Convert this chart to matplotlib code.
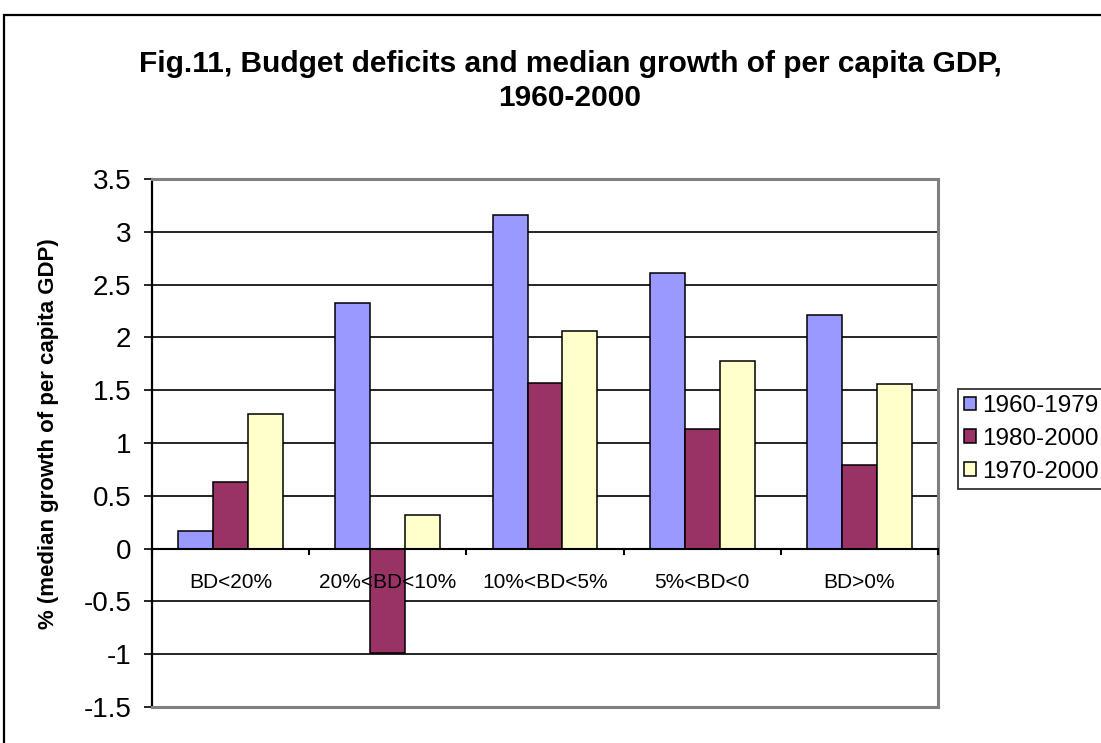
import matplotlib
matplotlib.use("Agg")
import matplotlib.pyplot as plt
from matplotlib.patches import Rectangle
import numpy as np

plt.rcParams['font.family'] = ['Liberation Sans', 'DejaVu Sans']

categories = ["BD<20%", "20%<BD<10%", "10%<BD<5%", "5%<BD<0", "BD>0%"]
series_names = ["1960-1979", "1980-2000", "1970-2000"]
s1960_1979 = [0.17, 2.33, 3.16, 2.61, 2.21]
s1980_2000 = [0.63, -0.99, 1.57, 1.13, 0.79]
s1970_2000 = [1.27, 0.32, 2.06, 1.78, 1.56]
yticks = [3.5, 3, 2.5, 2, 1.5, 1, 0.5, 0, -0.5, -1, -1.5]
ytick_labels = ["3.5", "3", "2.5", "2", "1.5", "1", "0.5", "0", "-0.5", "-1", "-1.5"]
colors = ["#9999FF", "#993366", "#FFFFCC"]

W, H = 1101, 743
fig = plt.figure(figsize=(W / 100, H / 100), dpi=100)
# outer chart frame (cropped at right and bottom)
fig.patches.append(Rectangle((4 / W, -0.05), 1.2, 1 - 15 / H + 0.05,
                             transform=fig.transFigure, fill=False,
                             edgecolor="black", linewidth=1.6, zorder=0))

L, R, T, B = 152, 938, 179, 707
ax = fig.add_axes([L / W, 1 - B / H, (R - L) / W, (B - T) / H])
x = np.arange(len(categories))
w = 0.222
for i, (vals, name) in enumerate(zip([s1960_1979, s1980_2000, s1970_2000], series_names)):
    ax.bar(x + (i - 1) * w, vals, w, color=colors[i], edgecolor="black",
           linewidth=1.1, label=name, zorder=3)

ax.set_xlim(-0.5, len(categories) - 0.5)
ax.set_ylim(-1.5, 3.5)
ax.set_yticks(yticks)
ax.set_yticklabels(ytick_labels, fontsize=20)
ax.yaxis.grid(True, color="black", linewidth=1.2, zorder=0)
ax.set_axisbelow(True)
ax.tick_params(axis='y', length=6, width=1.2, direction='out', pad=9)
ax.set_xticks([])

for sp in ["top", "right", "bottom"]:
    ax.spines[sp].set_color("#808080")
    ax.spines[sp].set_linewidth(2.2)
ax.spines["left"].set_linewidth(1.6)

# zero axis line with category separator ticks
ax.axhline(0, color="black", linewidth=1.5, zorder=4)
for b in np.arange(-0.5, len(categories), 1.0):
    ax.plot([b, b], [0, -0.05], color="black", linewidth=1.5, zorder=4, clip_on=False)
for xi, c in zip(x, categories):
    ax.text(xi, -0.32, c, ha="center", va="center", fontsize=15, zorder=5)

fig.text(49 / W, 1 - 434 / H, "% (median growth of per capita GDP)", rotation=90,
         ha="center", va="center", fontsize=16, fontweight="bold")

fig.text(570 / W, 1 - 81 / H, "Fig.11, Budget deficits and median growth of per capita GDP,\n1960-2000",
         ha="center", va="center", fontsize=21.5, fontweight="bold", linespacing=1.3)

leg = ax.legend(loc="upper left", bbox_to_anchor=(958 / W, 1 - 389 / H),
                bbox_transform=fig.transFigure, fontsize=17.5, frameon=True,
                fancybox=False, edgecolor="black", handlelength=0.5,
                handleheight=0.5, handletextpad=0.25, borderpad=0.25,
                labelspacing=0.45, borderaxespad=0)
leg.get_frame().set_linewidth(1.3)

fig.savefig("out.png", dpi=100)
